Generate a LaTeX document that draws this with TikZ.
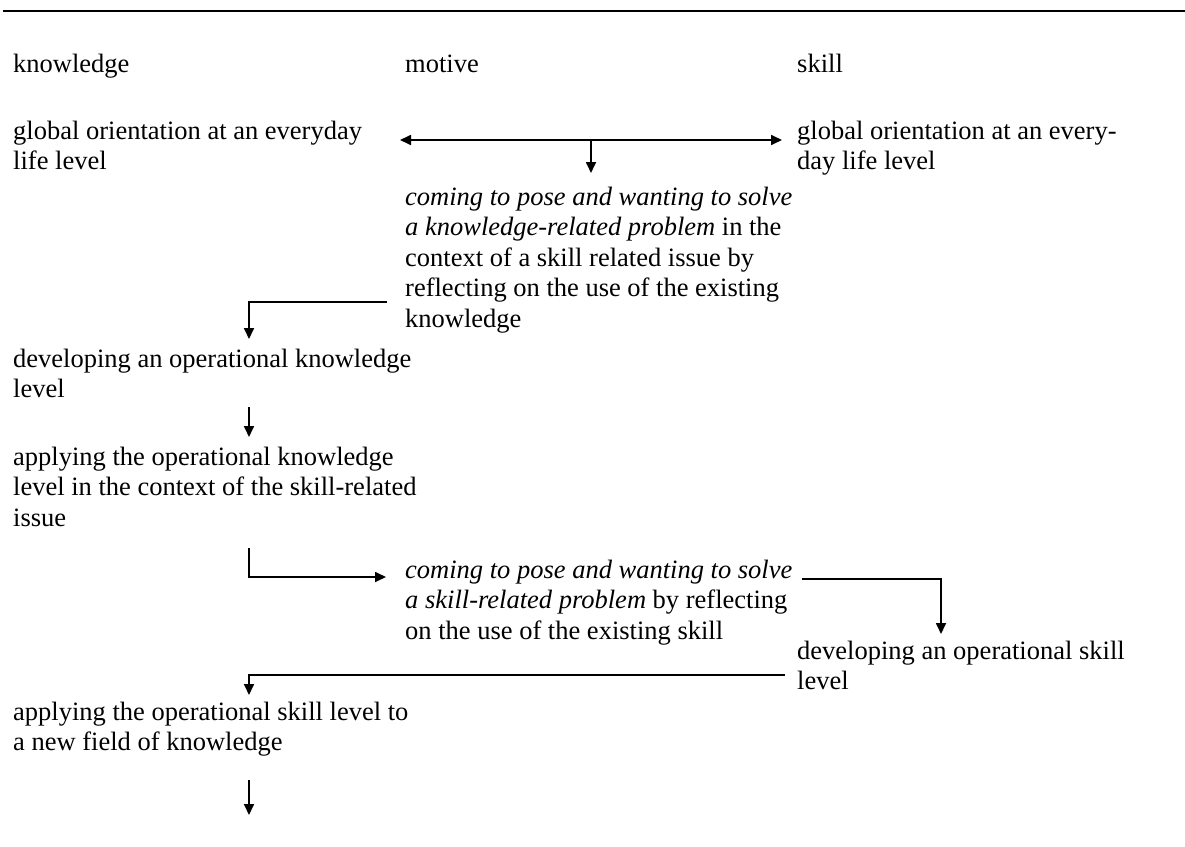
\documentclass[tikz,border=0pt]{standalone}
\usepackage{fontspec}
\setmainfont{Liberation Serif}
\usetikzlibrary{arrows.meta}
\begin{document}
\begin{tikzpicture}[x=1pt,y=-1pt,
  txt/.style={anchor=base west, inner sep=0pt, font=\fontsize{26.5}{30.5}\selectfont},
  tip/.tip={Triangle[length=11pt,width=10pt]},
  conn/.style={line width=1.7pt, -tip},
]
\useasboundingbox (0,0) rectangle (1185,846);
% top rule
\coordinate (ruleL) at (3,11);
\coordinate (ruleR) at (1185,11);
\draw[line width=2.5pt] (ruleL) -- (ruleR);

% column headers
\node[txt] (hK) at (13,72) {knowledge};
\node[txt] (hM) at (405,72) {motive};
\node[txt] (hS) at (797,72) {skill};

% starting orientation, knowledge side and skill side
\node[txt] (gK1) at (13,139) {global orientation at an everyday};
\node[txt] (gK2) at (13,169.5) {life level};
\node[txt] (gS1) at (797,139) {global orientation at an every-};
\node[txt] (gS2) at (797,169.5) {day life level};

% first motive
\node[txt] (mA1) at (405,205) {\textit{coming to pose and wanting to solve}};
\node[txt] (mA2) at (405,235.5) {\textit{a knowledge-related problem} in the};
\node[txt] (mA3) at (405,266) {context of a skill related issue by};
\node[txt] (mA4) at (405,296.5) {reflecting on the use of the existing};
\node[txt] (mA5) at (405,327) {knowledge};

% knowledge development
\node[txt] (dK1) at (13,367) {developing an operational knowledge};
\node[txt] (dK2) at (13,397.5) {level};
\node[txt] (aK1) at (13,465) {applying the operational knowledge};
\node[txt] (aK2) at (13,495.5) {level in the context of the skill-related};
\node[txt] (aK3) at (13,526) {issue};

% second motive
\node[txt] (mB1) at (405,578) {\textit{coming to pose and wanting to solve}};
\node[txt] (mB2) at (405,608.5) {\textit{a skill-related problem} by reflecting};
\node[txt] (mB3) at (405,639) {on the use of the existing skill};

% skill development
\node[txt] (dS1) at (797,659) {developing an operational skill};
\node[txt] (dS2) at (797,689.5) {level};
\node[txt] (aS1) at (13,720) {applying the operational skill level to};
\node[txt] (aS2) at (13,750.5) {a new field of knowledge};

% connector end points
\coordinate (oL) at (400,140);
\coordinate (oR) at (782,140);
\coordinate (oM) at (591,140);
\coordinate (oMt) at (591,173);
\coordinate (e1s) at (387,302);
\coordinate (e1c) at (249,302);
\coordinate (e1t) at (249,339);
\coordinate (s2s) at (249,407);
\coordinate (s2t) at (249,437);
\coordinate (e3s) at (249,548);
\coordinate (e3c) at (249,577);
\coordinate (e3t) at (386,577);
\coordinate (e4s) at (802,579);
\coordinate (e4c) at (941,579);
\coordinate (e4t) at (941,634);
\coordinate (e5s) at (785,675);
\coordinate (e5c) at (249,675);
\coordinate (e5t) at (249,695);
\coordinate (s6s) at (249,780);
\coordinate (s6t) at (249,815);

% connectors
\draw[conn, tip-tip] (oL) -- (oR);
\draw[conn] (oM) -- (oMt);
\draw[conn] (e1s) -- (e1c) -- (e1t);
\draw[conn] (s2s) -- (s2t);
\draw[conn] (e3s) -- (e3c) -- (e3t);
\draw[conn] (e4s) -- (e4c) -- (e4t);
\draw[conn] (e5s) -- (e5c) -- (e5t);
\draw[conn] (s6s) -- (s6t);
\end{tikzpicture}
\end{document}
